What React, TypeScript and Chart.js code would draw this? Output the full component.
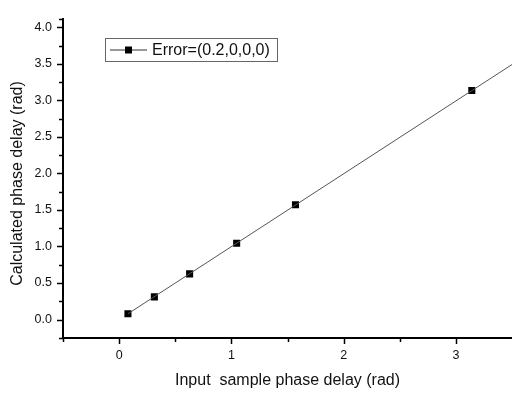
import React, { useEffect, useRef } from "react";
import { Chart, registerables } from "chart.js";

Chart.register(...registerables);

const seriesLabel = "Error=(0.2,0,0,0)";
const inputDelay = [0.0785, 0.314, 0.628, 1.047, 1.571, 3.142];
const calcDelay = [0.08, 0.31, 0.625, 1.045, 1.57, 3.135];
const fitX = [0.0785, 3.5];
const fitY = [0.0785, 3.49];
const xMajorTicks = [0, 1, 2, 3];
const xMinorTicks = [-0.5, 0.5, 1.5, 2.5];
const yMajorTicks = [0, 0.5, 1, 1.5, 2, 2.5, 3, 3.5, 4];
const yMinorTicks = [-0.25, 0.25, 0.75, 1.25, 1.75, 2.25, 2.75, 3.25, 3.75, 4.12];
const xTitle = "Input  sample phase delay (rad)";
const yTitle = "Calculated phase delay (rad)";

const FONT = "'Liberation Sans', Arial, sans-serif";

const decorPlugin = {
  id: "decor",
  afterDraw(chart: any) {
    const ctx = chart.ctx;
    const xs = chart.scales.x;
    const ys = chart.scales.y;
    const ca = chart.chartArea;
    ctx.save();
    ctx.strokeStyle = "#000";
    ctx.lineWidth = 1.5;
    const bottom = ca.bottom;
    ctx.beginPath();
    xMajorTicks.forEach((v) => {
      const px = Math.round(xs.getPixelForValue(v)) + 0.5;
      ctx.moveTo(px, bottom);
      ctx.lineTo(px, bottom + 6);
    });
    xMinorTicks.forEach((v) => {
      const px = Math.round(xs.getPixelForValue(v)) + 0.5;
      ctx.moveTo(px, bottom);
      ctx.lineTo(px, bottom + 4);
    });
    const left = ca.left;
    yMajorTicks.forEach((v) => {
      const py = Math.round(ys.getPixelForValue(v)) + 0.5;
      ctx.moveTo(left, py);
      ctx.lineTo(left - 6, py);
    });
    yMinorTicks.forEach((v) => {
      const py = Math.round(ys.getPixelForValue(v)) + 0.5;
      ctx.moveTo(left, py);
      ctx.lineTo(left - 4, py);
    });
    ctx.stroke();

    ctx.fillStyle = "#111";
    ctx.font = `16px ${FONT}`;
    ctx.textAlign = "center";
    ctx.textBaseline = "middle";
    ctx.fillText(xTitle, (ca.left + ca.right) / 2, 381);
    ctx.save();
    ctx.translate(18, 183.5);
    ctx.rotate(-Math.PI / 2);
    ctx.fillText(yTitle, 0, 0);
    ctx.restore();

    const lx = 105.5, ly = 38.5, lw = 172, lh = 23;
    ctx.strokeStyle = "#666";
    ctx.lineWidth = 1;
    ctx.strokeRect(lx, ly, lw, lh);
    const cy = ly + lh / 2;
    ctx.strokeStyle = "#333";
    ctx.beginPath();
    ctx.moveTo(110, cy);
    ctx.lineTo(147, cy);
    ctx.stroke();
    ctx.fillStyle = "#000";
    ctx.fillRect(125, cy - 3.5, 7, 7);
    ctx.fillStyle = "#111";
    ctx.textAlign = "left";
    ctx.fillText(seriesLabel, 152, cy + 0.5);
    ctx.restore();
  },
};

export default function App() {
  const ref = useRef<HTMLCanvasElement | null>(null);
  useEffect(() => {
    if (!ref.current) return;
    const chart = new Chart(ref.current, {
      type: "scatter",
      data: {
        datasets: [
          {
            label: "fit",
            data: fitX.map((x, i) => ({ x, y: fitY[i] })),
            showLine: true,
            borderColor: "#555",
            borderWidth: 1,
            pointRadius: 0,
          },
          {
            label: seriesLabel,
            data: inputDelay.map((x, i) => ({ x, y: calcDelay[i] })),
            showLine: false,
            backgroundColor: "#000",
            borderColor: "#000",
            pointStyle: "rect",
            pointRadius: 5,
            borderWidth: 0,
          },
        ],
      },
      options: {
        animation: false,
        responsive: true,
        maintainAspectRatio: false,
        layout: { autoPadding: false, padding: { top: 15, right: 0, left: 0, bottom: 0 } },
        plugins: { legend: { display: false }, tooltip: { enabled: false } },
        scales: {
          x: {
            type: "linear",
            min: -0.5,
            max: 3.5,
            afterBuildTicks: (s: any) => {
              s.ticks = xMajorTicks.map((v) => ({ value: v }));
            },
            afterFit: (s: any) => {
              s.height = 55;
            },
            grid: { display: false, drawTicks: false },
            border: { display: true, color: "#000", width: 2 },
            ticks: {
              padding: 10,
              color: "#111",
              font: { size: 12.5, family: FONT },
              callback: (v: any) => String(v),
            },
          },
          y: {
            type: "linear",
            min: -0.253,
            max: 4.12,
            afterBuildTicks: (s: any) => {
              s.ticks = yMajorTicks.map((v) => ({ value: v }));
            },
            afterFit: (s: any) => {
              s.width = 63;
            },
            grid: { display: false, drawTicks: false },
            border: { display: true, color: "#000", width: 2 },
            ticks: {
              padding: 11,
              color: "#111",
              font: { size: 12.5, family: FONT },
              callback: (v: any) => Number(v).toFixed(1),
            },
          },
        },
      },
      plugins: [decorPlugin],
    } as any);
    return () => chart.destroy();
  }, []);
  return (
    <div style={{ position: "absolute", left: 0, top: 0, width: 512, height: 393, background: "#fff" }}>
      <canvas ref={ref} />
    </div>
  );
}
